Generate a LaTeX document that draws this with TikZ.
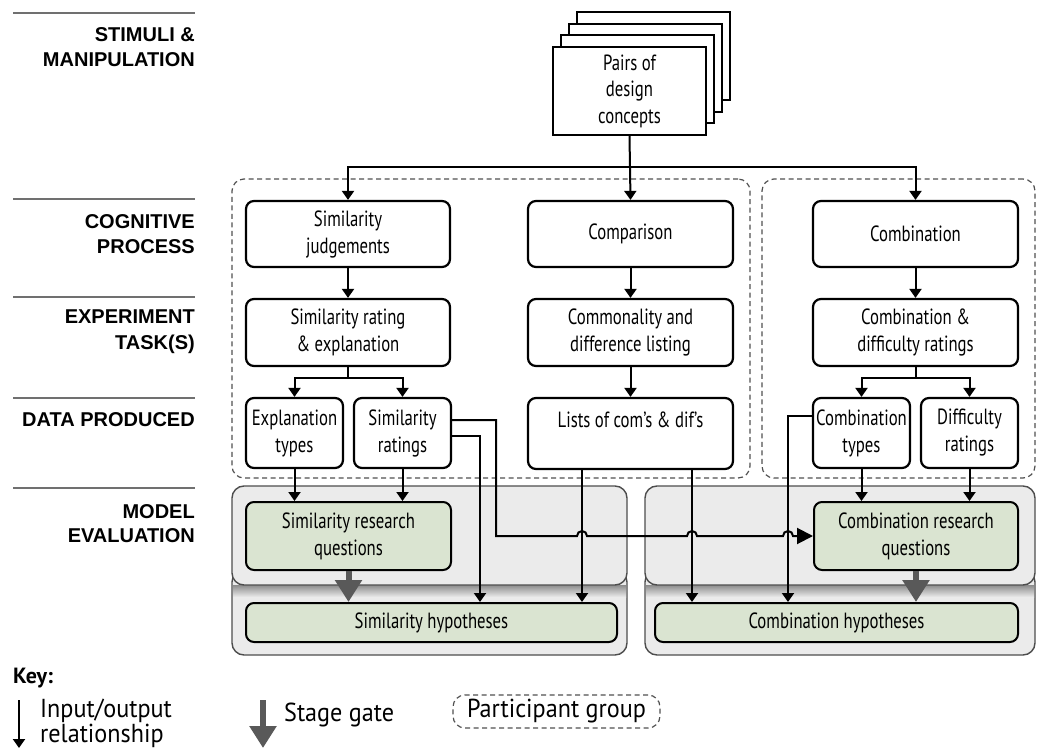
\documentclass[tikz,border=0pt]{standalone}
\usepackage{fontspec}
\setmainfont{PT Sans}
\newfontfamily\nodefont[FakeStretch=0.76]{PT Sans}
\newfontfamily\keyfont[FakeStretch=0.93]{PT Sans}
\newfontfamily\headfont{Liberation Sans}
\usetikzlibrary{arrows.meta,calc}

\definecolor{panel}{HTML}{EBEBEB}
\definecolor{panelline}{HTML}{4D4D4D}
\definecolor{sage}{HTML}{DAE4D1}
\definecolor{gatecol}{HTML}{595959}
\definecolor{rulecol}{HTML}{707070}
\definecolor{groupline}{HTML}{505050}

\tikzset{
  box/.style={draw=black, line width=2.2pt, rounded corners=8pt, fill=white,
    align=center, inner sep=0pt, font={\nodefont\fontsize{22}{27}\selectfont}},
  greenbox/.style={box, fill=sage, line width=2pt},
  sheet/.style={draw=black, line width=2pt, fill=white, minimum width=153pt,
    minimum height=88pt, align=center, inner sep=0pt,
    font={\nodefont\fontsize{22}{26.5}\selectfont}},
  wire/.style={line width=2pt},
  conn/.style={line width=2pt, -{Triangle[length=9pt,width=12pt]}},
  bigconn/.style={line width=2pt, -{Triangle[length=16pt,width=16pt]}},
  gatearrow/.style={draw=gatecol, line width=6pt, -{Triangle[length=22pt,width=26pt]}},
  group/.style={draw=groupline, line width=1.2pt, dash pattern=on 5pt off 3.5pt,
    rounded corners=12pt},
  panelbox/.style={draw=panelline, fill=panel, line width=1.4pt, rounded corners=12pt},
  heading/.style={font={\headfont\bfseries\fontsize{20}{25}\selectfont},
    anchor=base east, inner sep=0pt},
  rulebar/.style={draw=rulecol, line width=2pt},
  keytext/.style={font={\keyfont\fontsize{26}{23.5}\selectfont}, inner sep=0pt, align=left},
}

\begin{document}
\begin{tikzpicture}[x=1pt, y=-1pt]
\useasboundingbox (0,0) rectangle (1037,749);

% ---- stage headings on the left
\foreach \yy in {13,199,297,398,488}
  \draw[rulebar] (13,\yy) -- (195,\yy);
\node[heading] (hstimA) at (195,42) {STIMULI \&};
\node[heading] (hstimB) at (195,67) {MANIPULATION};
\node[heading] (hcogA) at (195,229) {COGNITIVE};
\node[heading] (hcogB) at (195,254) {PROCESS};
\node[heading] (hexpA) at (195,323) {EXPERIMENT};
\node[heading] (hexpB) at (195,349) {TASK(S)};
\node[heading] (hdata) at (195,426) {DATA PRODUCED};
\node[heading] (hmodA) at (195,518) {MODEL};
\node[heading] (hmodB) at (195,542) {EVALUATION};

% ---- model evaluation panels
\node[panelbox, minimum width=395pt, minimum height=85pt] (mlowL) at (429.5,612.5) {};
\node[panelbox, minimum width=390pt, minimum height=85pt] (mlowR) at (840,612.5) {};
\shade[top color=black!45, bottom color=panel] (233,585) rectangle (626,597);
\shade[top color=black!45, bottom color=panel] (646,585) rectangle (1034,597);
\node[panelbox, minimum width=395pt, minimum height=99pt] (mupL) at (429.5,535.5) {};
\node[panelbox, minimum width=390pt, minimum height=99pt] (mupR) at (840,535.5) {};

% ---- participant groups
\node[group, minimum width=518pt, minimum height=299pt] (grpL) at (491,328.5) {};
\node[group, minimum width=273pt, minimum height=299pt] (grpR) at (898.5,328.5) {};

% ---- stimuli: a stack of sheets
\node[sheet] (pd3) at (653.5,56.5) {};
\node[sheet] (pd2) at (645.5,68) {};
\node[sheet] (pd1) at (637.5,79.5) {};
\node[sheet] (pd) at (629.5,91) {Pairs of\\design\\concepts};

% ---- cognitive process
\node[box, minimum width=204pt, minimum height=66pt] (sj) at (348,234) {Similarity\\judgements};
\node[box, minimum width=205pt, minimum height=66pt] (cmp) at (630.5,234) {Comparison};
\node[box, minimum width=205pt, minimum height=66pt] (cb) at (915.5,234) {Combination};

% ---- experiment tasks
\node[box, minimum width=204pt, minimum height=67pt] (sre) at (348,332.5) {Similarity rating\\\& explanation};
\node[box, minimum width=205pt, minimum height=67pt] (cdl) at (630.5,332.5) {Commonality and\\difference listing};
\node[box, minimum width=205pt, minimum height=67pt] (cdr) at (915.5,332.5) {Combination \&\\difficulty ratings};

% ---- data produced
\node[box, minimum width=97pt, minimum height=70pt] (et) at (294.5,433) {Explanation\\types};
\node[box, minimum width=97pt, minimum height=70pt] (sr) at (402.5,433) {Similarity\\ratings};
\node[box, minimum width=205pt, minimum height=71pt] (lcd) at (630.5,433.5) {Lists of com’s \& dif’s\\\mbox{}};
\node[box, minimum width=97pt, minimum height=70pt] (ct) at (861.5,433) {Combination\\types};
\node[box, minimum width=97pt, minimum height=70pt] (dr) at (969.5,433) {Difficulty\\ratings};

% ---- model evaluation
\node[greenbox, minimum width=205pt, minimum height=68pt] (srq) at (348.5,536) {Similarity research\\questions};
\node[greenbox, minimum width=371pt, minimum height=39pt] (sh) at (431.5,622.5) {Similarity hypotheses};
\node[greenbox, minimum width=204pt, minimum height=68pt] (crq) at (916,536) {Combination research\\questions};
\node[greenbox, minimum width=363pt, minimum height=39pt] (ch) at (836.5,622.5) {Combination hypotheses};

% ---- routing points
\coordinate (split) at (629.5,167);
\coordinate (s1) at (348,378);
\coordinate (s2) at (915.5,378);
\coordinate (bendA) at (496,536);
\coordinate (xB) at (480,0);
\coordinate (legL) at (582,0);
\coordinate (legR) at (692,0);
\coordinate (xC) at (788,0);

% ---- connectors
\draw[conn] (pd.south) -- (cmp.north);
\draw[conn] (split) -| (sj.north);
\draw[conn] (split) -| (cb.north);
\draw[conn] (sj) -- (sre);
\draw[conn] (cmp) -- (cdl);
\draw[conn] (cb) -- (cdr);
\draw[conn] (cdl) -- (lcd);
\draw[wire] (sre.south) -- (s1);
\draw[conn] (s1) -| (et.north);
\draw[conn] (s1) -| (sr.north);
\draw[wire] (cdr.south) -- (s2);
\draw[conn] (s2) -| (ct.north);
\draw[conn] (s2) -| (dr.north);

\draw[conn] (et.south) -- (et.south |- srq.north);
\draw[conn] (sr.south) -- (sr.south |- srq.north);
\draw[conn] (ct.south) -- (ct.south |- crq.north);
\draw[conn] (dr.south) -- (dr.south |- crq.north);

\draw[conn] (lcd.south -| legL) -- (legL |- sh.north);
\draw[conn] (lcd.south -| legR) -- (legR |- ch.north);
\draw[conn] ([yshift=-3pt]sr.east) -| (xB |- sh.north);
\draw[conn] ([yshift=17pt]ct.west) -| (xC |- ch.north);
\draw[bigconn] ([yshift=13pt]sr.east) -| (bendA)
  -- ($(bendA -| legL)+(-5,0)$) arc[start angle=180, end angle=0, radius=5pt]
  -- ($(bendA -| legR)+(-5,0)$) arc[start angle=180, end angle=0, radius=5pt]
  -- ($(bendA -| xC)+(-5,0)$) arc[start angle=180, end angle=0, radius=5pt]
  -- (crq.west);

% ---- stage gates
\draw[gatearrow] (srq.south) -- (srq.south |- sh.north);
\draw[gatearrow] (crq.south) -- (crq.south |- ch.north);

% ---- key
\node[anchor=base west, inner sep=0pt, font={\bfseries\fontsize{22}{26}\selectfont}] (key) at (13,683) {Key:};
\coordinate (ka) at (19,700);
\coordinate (kb) at (19,748);
\draw[conn] (ka) -- (kb);
\node[keytext, anchor=north west] (kio) at (40,699) {Input/output\\relationship};
\coordinate (ga) at (263,700);
\coordinate (gb) at (263,748);
\draw[gatearrow] (ga) -- (gb);
\node[keytext, anchor=base west] (ksg) at (284,721) {Stage gate};
\node[group, keytext, minimum width=207pt, minimum height=33pt] (kpg) at (556.5,711.5) {Participant group};
\end{tikzpicture}
\end{document}
